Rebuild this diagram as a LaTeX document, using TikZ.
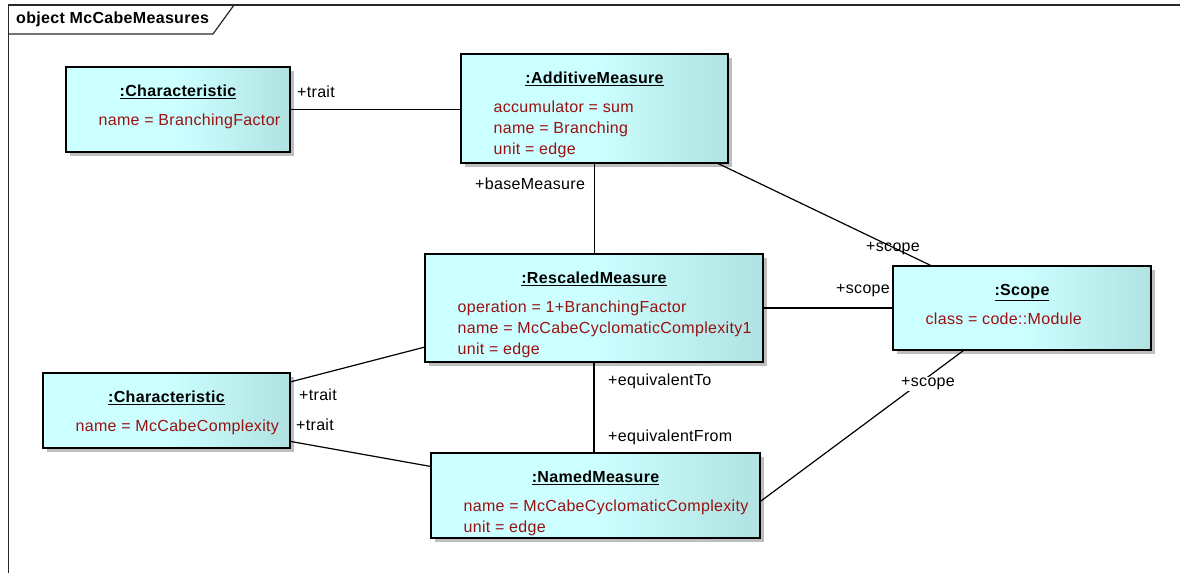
\documentclass[tikz,border=0pt]{standalone}
\usepackage{fontspec}
\setmainfont{Liberation Sans}[LetterSpace=2]
\usetikzlibrary{positioning, shadows}
\definecolor{objclaro}{RGB}{204,255,255}
\definecolor{objescuro}{RGB}{176,226,226}
\definecolor{atribred}{RGB}{153,17,17}
\definecolor{sombra}{RGB}{190,190,190}
\definecolor{molduracinza}{RGB}{40,40,40}
\newcommand{\fonteuml}{\fontsize{16}{21}\selectfont}
\tikzset{
  objeto/.style={rectangle, draw=black, line width=1.2pt, left color=objclaro,
    right color=objescuro, middle color=objclaro,
    drop shadow={shadow xshift=4pt, shadow yshift=-4pt, fill=sombra, opacity=1}},
  titulo/.style={inner sep=0pt, font=\fonteuml\bfseries},
  atributos/.style={inner sep=0pt, align=left, text=atribred, font=\fonteuml},
  papel/.style={inner sep=1pt, anchor=west, font=\fonteuml},
  ligacao/.style={line width=1.2pt, color=black}
}

\begin{document}
\begin{tikzpicture}[x=1pt, y=-1pt]
\useasboundingbox (0,0) rectangle (1180,573);

% moldura do diagrama
\draw[line width=1.6pt, molduracinza] (8.5,573) -- (8.5,5) -- (1180,5);
\draw[line width=1.2pt, molduracinza] (8.5,34) -- (213,34) -- (234,5);
\node (cabec) [papel, font=\fonteuml\bfseries] at (15,19) {object McCabeMeasures};

% objetos
\node (carBranch) [objeto, minimum width=224pt, minimum height=85pt]  at (178,109.5) {};
\node (addMed)    [objeto, minimum width=267pt, minimum height=109pt] at (594.5,108.5) {};
\node (rescMed)   [objeto, minimum width=338pt, minimum height=108pt] at (594,308) {};
\node (escopo)    [objeto, minimum width=258pt, minimum height=84pt]  at (1022,308) {};
\node (carMcCabe) [objeto, minimum width=247pt, minimum height=75pt]  at (166.5,410.5) {};
\node (nomMed)    [objeto, minimum width=329pt, minimum height=85pt]  at (595.5,495.5) {};

\node (carBranchT) [titulo, below=18.5pt of carBranch.north] {\underline{:Characteristic}};
\node (carBranchA) [atributos, below right=47pt and 33pt of carBranch.north west]
      {name = BranchingFactor};
\node (addMedT)    [titulo, below=18.5pt of addMed.north] {\underline{:AdditiveMeasure}};
\node (addMedA)    [atributos, below right=47pt and 33pt of addMed.north west]
      {accumulator = sum\\ name = Branching\\ unit = edge};
\node (rescMedT)   [titulo, below=18.5pt of rescMed.north] {\underline{:RescaledMeasure}};
\node (rescMedA)   [atributos, below right=47pt and 33pt of rescMed.north west]
      {operation = 1+BranchingFactor\\ name = McCabeCyclomaticComplexity1\\ unit = edge};
\node (escopoT)    [titulo, below=18.5pt of escopo.north] {\underline{:Scope}};
\node (escopoA)    [atributos, below right=47pt and 33pt of escopo.north west]
      {class = code::Module};
\node (carMcCabeT) [titulo, below=18.5pt of carMcCabe.north] {\underline{:Characteristic}};
\node (carMcCabeA) [atributos, below right=47pt and 33pt of carMcCabe.north west]
      {name = McCabeComplexity};
\node (nomMedT)    [titulo, below=18.5pt of nomMed.north] {\underline{:NamedMeasure}};
\node (nomMedA)    [atributos, below right=47pt and 33pt of nomMed.north west]
      {name = McCabeCyclomaticComplexity\\ unit = edge};

% associacoes
\draw[ligacao] (carBranch.east) -- (carBranch.east -| addMed.west);
\draw[ligacao] (addMed.south)   -- (addMed.south |- rescMed.north);
\draw[ligacao] (addMed.-24.3)   -- (escopo.155);
\draw[ligacao] (rescMed.east)   -- (rescMed.east -| escopo.west);
\draw[ligacao] (rescMed.193.6)  -- (carMcCabe.13.4);
\draw[ligacao] (carMcCabe.-14.3) -- (nomMed.170.9);
\draw[ligacao] (rescMed.south)  -- (rescMed.south |- nomMed.north);
\draw[ligacao] (nomMed.-2.6)    -- (escopo.-144.6);

% papeis
\node (pTrait1)  [papel] at (296,92)  {+trait};
\node (pBase)    [papel] at (474,184) {+baseMeasure};
\node (pScope1)  [papel] at (865,249) {+scope};
\node (pScope2)  [papel] at (835,291) {+scope};
\node (pTrait2)  [papel] at (298,395) {+trait};
\node (pTrait3)  [papel] at (295,425) {+trait};
\node (pEqTo)    [papel] at (607,381) {+equivalentTo};
\node (pEqFrom)  [papel] at (607,437) {+equivalentFrom};
\node (pScope3)  [papel, fill=white] at (900,384) {+scope};
\end{tikzpicture}
\end{document}
